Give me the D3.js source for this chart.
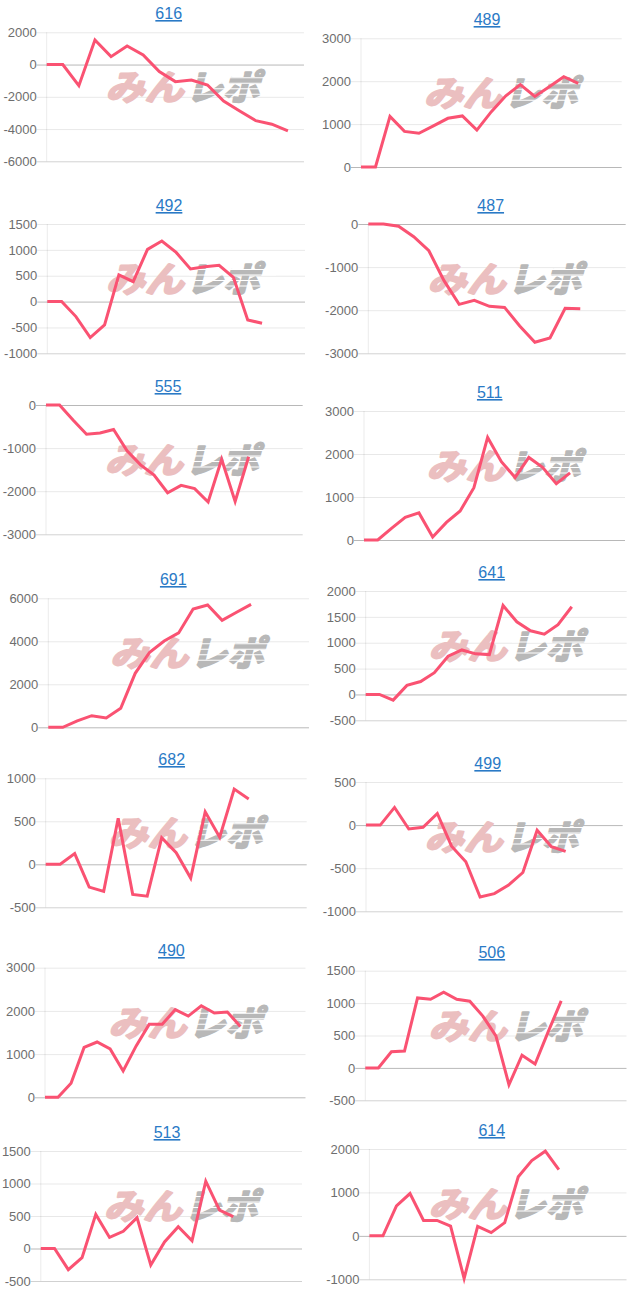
<!DOCTYPE html>
<html>
<head>
<meta charset="utf-8">
<script src="https://cdn.jsdelivr.net/npm/d3@7.9.0/dist/d3.min.js"></script>
<style>
  html, body { margin: 0; padding: 0; background: #fff; }
  svg { display: block; }
  .title { font: 16px "Liberation Sans", Arial, sans-serif; fill: #2a7ac6; text-decoration: underline; text-anchor: middle; }
  .tick text { font: 13px "Liberation Sans", Arial, sans-serif; fill: #6e6e6e; }
  .logo { font-family: "Noto Sans CJK JP", sans-serif; font-weight: 700; font-size: 35px; stroke-width: 2.2; stroke-linejoin: round; }
</style>
</head>
<body>
<svg id="chart" width="640" height="1303"></svg>
<script>
// === machine numbers, read left to right, top to bottom ===
const titles = ['616', '489', '492', '487', '555', '511', '691', '641', '682', '499', '490', '506', '513', '614'];

// === slump values ===
const values616 = [0, 0, -1307, 1525, 490, 1150, 595, -440, -1060, -955, -1265, -2260, -2880, -3480, -3700, -4120];
const values489 = [0, 0, 1180, 830, 785, 960, 1135, 1190, 860, 1290, 1660, 1920, 1645, 1870, 2105, 1950];
const values492 = [0, 0, -290, -695, -450, 515, 385, 1010, 1170, 950, 630, 675, 700, 470, -355, -420];
const values487 = [0, 0, -50, -295, -620, -1315, -1865, -1770, -1910, -1935, -2365, -2745, -2645, -1955, -1965];
const values555 = [0, 0, -350, -680, -650, -570, -1065, -1390, -1625, -2035, -1865, -1940, -2250, -1260, -2240, -1200];
const values511 = [0, 0, 270, 525, 630, 70, 410, 675, 1215, 2385, 1820, 1455, 1920, 1690, 1310, 1560];
const values691 = [0, 0, 295, 540, 435, 885, 2510, 3490, 4015, 4390, 5505, 5690, 4975, 5350, 5720];
const values641 = [0, 0, -110, 175, 250, 420, 740, 860, 785, 770, 1720, 1405, 1230, 1165, 1350, 1695];
const values682 = [0, 0, 125, -265, -315, 535, -350, -370, 310, 135, -160, 610, 315, 875, 760];
const values499 = [0, 0, 205, -45, -25, 135, -245, -425, -835, -795, -695, -550, -60, -250, -305];
const values490 = [0, 0, 325, 1155, 1280, 1120, 610, 1190, 1690, 1690, 2030, 1880, 2120, 1950, 1975, 1640];
const values506 = [0, 0, 250, 260, 1080, 1060, 1170, 1060, 1030, 800, 495, -260, 195, 60, 555, 1035];
const values513 = [0, 0, -325, -140, 525, 170, 265, 475, -255, 100, 335, 120, 1035, 590, 490];
const values614 = [0, 0, 690, 975, 355, 355, 225, -980, 220, 75, 305, 1360, 1735, 1950, 1525];

const allValues = [values616, values489, values492, values487, values555, values511, values691,
  values641, values682, values499, values490, values506, values513, values614];

// === y axis ticks ===
const ticks616 = [2000, 0, -2000, -4000, -6000];
const ticks489 = [3000, 2000, 1000, 0];
const ticks492 = [1500, 1000, 500, 0, -500, -1000];
const ticks487 = [0, -1000, -2000, -3000];
const ticks555 = [0, -1000, -2000, -3000];
const ticks511 = [3000, 2000, 1000, 0];
const ticks691 = [6000, 4000, 2000, 0];
const ticks641 = [2000, 1500, 1000, 500, 0, -500];
const ticks682 = [1000, 500, 0, -500];
const ticks499 = [500, 0, -500, -1000];
const ticks490 = [3000, 2000, 1000, 0];
const ticks506 = [1500, 1000, 500, 0, -500];
const ticks513 = [1500, 1000, 500, 0, -500];
const ticks614 = [2000, 1000, 0, -1000];

const allTicks = [ticks616, ticks489, ticks492, ticks487, ticks555, ticks511, ticks691,
  ticks641, ticks682, ticks499, ticks490, ticks506, ticks513, ticks614];

// number of x categories per chart (the last ones have no data yet)
const categoryCounts = [17, 19, 19, 18, 20, 20, 19, 20, 19, 19, 21, 21, 20, 20];

// === plot boxes: left, right, top, bottom, title x, title y ===
const boxes = [
  [46.7, 304, 32.3, 161.3, 168.7, 19],
  [361, 621.7, 38.3, 167, 487, 25],
  [47.3, 305, 224, 353.3, 169, 211],
  [368.3, 625.7, 224, 353.3, 490.7, 211],
  [46, 302.7, 405, 534.3, 168, 392],
  [364, 625, 411, 540, 489.7, 398],
  [48.3, 309, 598.3, 727.3, 173.3, 585],
  [365.7, 626.7, 591, 720.3, 491.7, 578],
  [45.7, 306.7, 778.3, 907.3, 171.7, 765],
  [366, 622.7, 782, 911.3, 487.7, 769],
  [45, 305.5, 967.7, 1097.3, 171.4, 956],
  [365.3, 626.5, 970.7, 1100.3, 491.8, 958],
  [40.8, 302, 1151, 1281, 167, 1138],
  [369.4, 626.5, 1149, 1279.3, 491.8, 1136]
];

const svg = d3.select('#chart');

// speed lines across the gray half of the logo
const logoStripes = [6, 11.5, 17, 22.5];

function drawLogo(cx, top) {
  const logo = svg.append('g').attr('transform', `translate(${cx - 79},${top + 27}) skewX(-14)`);
  logo.append('text').attr('class', 'logo')
    .attr('x', -1).attr('y', 0)
    .attr('textLength', 78).attr('lengthAdjust', 'spacingAndGlyphs')
    .attr('fill', '#ebbfc0').attr('stroke', '#ebbfc0')
    .text('みん');
  logo.append('text').attr('class', 'logo')
    .attr('x', 79).attr('y', 0)
    .attr('textLength', 74).attr('lengthAdjust', 'spacingAndGlyphs')
    .attr('fill', '#b8b8b8').attr('stroke', '#b8b8b8')
    .text('レポ');
  logo.selectAll('line').data(logoStripes).join('line')
    .attr('x1', 78).attr('x2', 165)
    .attr('y1', (d) => -d).attr('y2', (d) => -d)
    .attr('stroke', '#fff').attr('stroke-width', 1);
}

titles.forEach((title, i) => {
  const [left, right, top, bottom, titleX, titleY] = boxes[i];
  const values = allValues[i];
  const ticks = allTicks[i];
  const width = right - left;

  const x = d3.scalePoint()
    .domain(d3.range(categoryCounts[i]))
    .range([0, width]);
  const y = d3.scaleLinear()
    .domain(d3.extent(ticks))
    .range([bottom - top, 0]);

  svg.append('text').attr('class', 'title')
    .attr('x', titleX).attr('y', titleY)
    .text(title);

  const axis = svg.append('g')
    .attr('transform', `translate(${left},${top})`)
    .call(d3.axisLeft(y).tickValues(ticks).tickSize(-width).tickPadding(10).tickFormat((d) => String(d)));
  axis.select('.domain').attr('stroke', 'rgba(0,0,0,0.08)').attr('d', `M0,0V${bottom - top}`);
  axis.selectAll('.tick line')
    .attr('x1', -10)
    .attr('stroke', (d) => (d === 0 ? 'rgba(0,0,0,0.28)' : d === ticks[ticks.length - 1] ? 'rgba(0,0,0,0.18)' : 'rgba(0,0,0,0.09)'));

  // logo sits between the grid and the line
  drawLogo(titleX + 17, top + 41);

  const line = d3.line()
    .x((d, idx) => x(idx))
    .y((d) => y(d));

  svg.append('path')
    .datum(values)
    .attr('transform', `translate(${left},${top})`)
    .attr('d', line)
    .attr('fill', 'none')
    .attr('stroke', '#fa5272')
    .attr('stroke-width', 3);
});
</script>
</body>
</html>
